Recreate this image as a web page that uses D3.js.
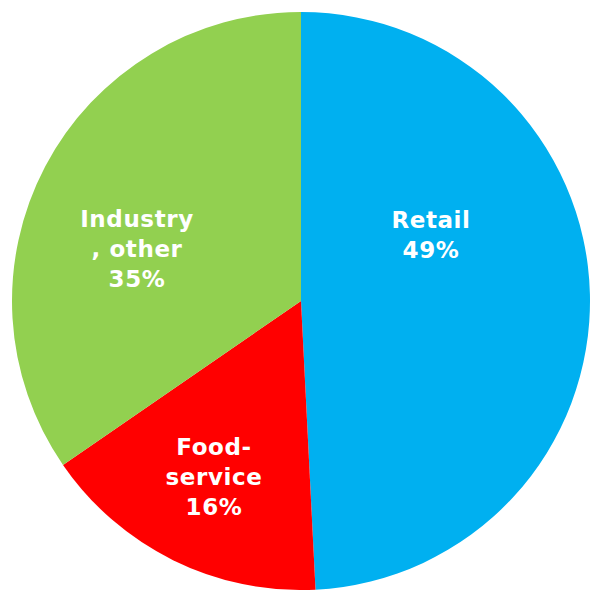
<!DOCTYPE html>
<html><head><meta charset="utf-8">
<script src="https://cdn.jsdelivr.net/npm/d3@7"></script>
<style>html,body{margin:0;padding:0;background:#fff;overflow:hidden}</style>
</head><body>
<svg id="c" width="591" height="590"></svg>
<script>
const categories = ["Retail", "Food-service", "Industry, other"];
const values = [49.2, 16.2, 34.6];
const labelLines = [["Retail", "49%"], ["Food-", "service", "16%"], ["Industry", ", other", "35%"]];
const colors = ["#00B0F0", "#FF0000", "#92D050"];

// layout
const cx = 301, cy = 301, R = 289;
const labelPos = [[431, 228], [214, 455], [137, 227]];
const lineH = 29.8;

const svg = d3.select("#c");
const g = svg.append("g").attr("transform", `translate(${cx},${cy})`);
const pie = d3.pie().sort(null).value(d => d)(values);
const arc = d3.arc().innerRadius(0).outerRadius(R);
const color = d3.scaleOrdinal().domain(categories).range(colors);

g.selectAll("path").data(pie).join("path")
  .attr("d", arc)
  .attr("fill", (d, i) => color(categories[i]));

const lbl = svg.selectAll("text.lbl").data(pie).join("text")
  .attr("class", "lbl")
  .attr("text-anchor", "middle")
  .attr("font-family", "DejaVu Sans, Verdana, sans-serif")
  .attr("font-weight", "bold")
  .attr("font-size", 23)
  .attr("letter-spacing", 0.6)
  .attr("fill", "#fff");
lbl.each(function(d, i) {
  const t = d3.select(this);
  labelLines[i].forEach((s, j) => {
    t.append("tspan").attr("x", labelPos[i][0]).attr("y", labelPos[i][1] + j * lineH).text(s);
  });
});
</script>
</body></html>
